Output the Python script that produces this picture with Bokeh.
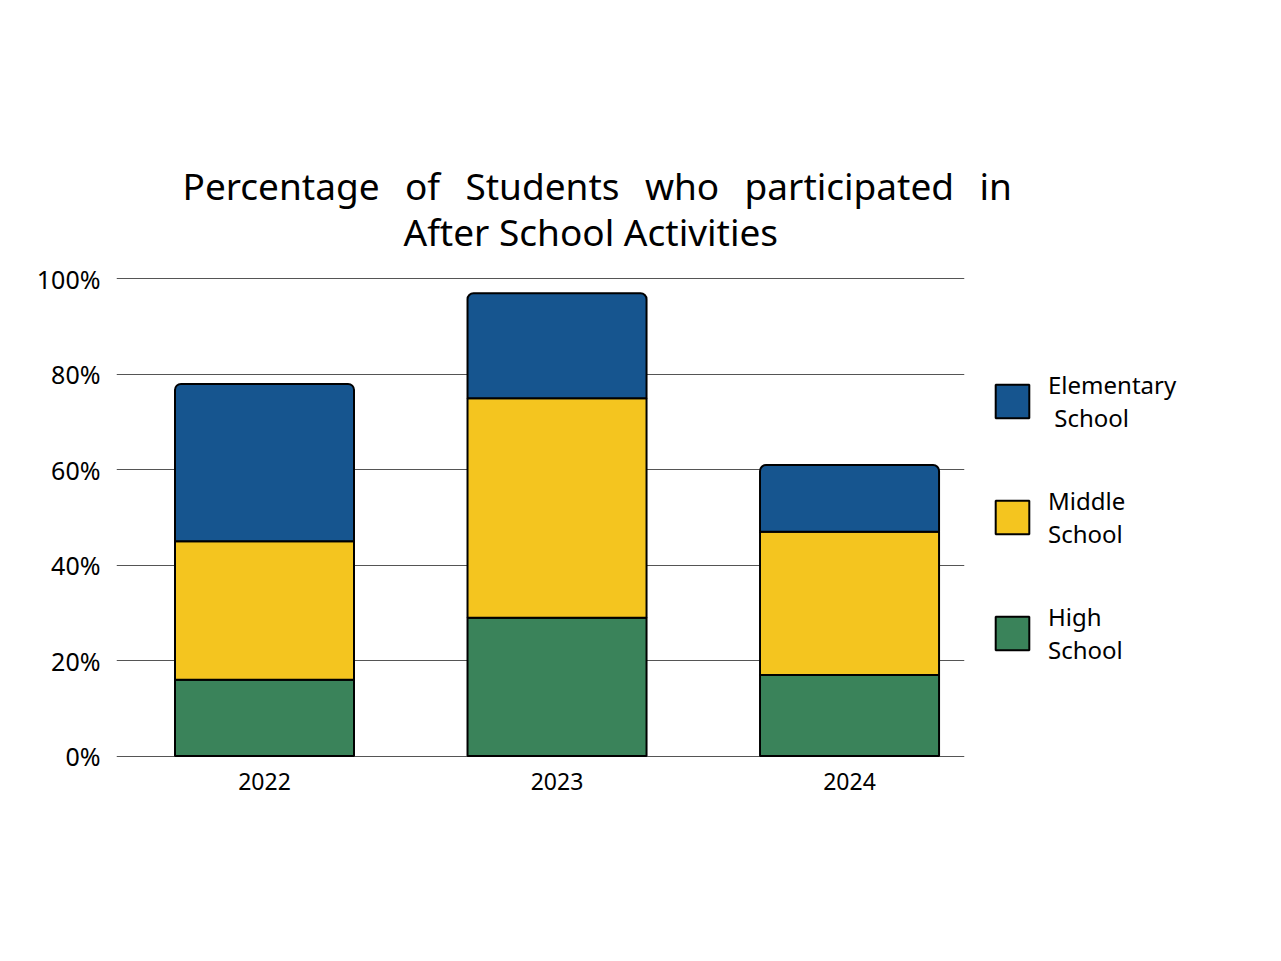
from bokeh.plotting import figure
from bokeh.models import ColumnDataSource, Range1d, FixedTicker, Legend, LegendItem, Title
from bokeh.embed import file_html
from bokeh.resources import INLINE

# data
years = ["2022", "2023", "2024"]
high = [16, 29, 17]
middle = [29, 46, 30]
elementary = [33, 22, 14]
levels = ["high", "middle", "elementary"]
level_names = ["High\nSchool", "Middle\nSchool", "Elementary\n School"]
colors = ["#3a835a", "#f4c51f", "#16558f"]
y_ticks = [0, 20, 40, 60, 80, 100]
y_labels = ["0%", "20%", "40%", "60%", "80%", "100%"]

FONT = "Noto Sans"
sp = "\u00a0\u00a0\u2009"
line1 = sp.join(["Percentage", "of", "Students", "who", "participated", "in"])
line2 = "After School Activities"

src = ColumnDataSource(dict(x=list(range(len(years))), year=years,
                            high=high, middle=middle, elementary=elementary))

# range a hair past 0/100 so both edge gridlines get drawn
p = figure(frame_width=848, frame_height=480,
           x_range=Range1d(-0.506, 2.393), y_range=Range1d(-0.3, 100.3),
           output_backend="svg", toolbar_location=None,
           min_border_left=116, min_border_top=277, min_border_bottom=90, min_border_right=10)

# title, two lines
p.title.text = line1
p.title.align = "left"
p.title.offset = 66
p.title.text_font = FONT
p.title.text_font_size = "37px"
p.title.text_font_style = "normal"
p.title.text_color = "black"
p.title.standoff = -56
t2 = Title(text=line2, align="left", offset=287, text_font=FONT, text_font_size="37px",
           text_font_style="normal", text_color="black", standoff=42)
p.add_layout(t2, "above")

bars = p.vbar_stack(levels, x="x", width=0.612, source=src,
                    fill_color=colors, line_color="black", line_width=2)
bars[-1].glyph.border_radius = (6, 6, 0, 0)

legend = Legend(items=[LegendItem(label=level_names[i], renderers=[bars[i]]) for i in (2, 1, 0)],
                location="center_left", orientation="vertical",
                glyph_width=42, glyph_height=42, label_standoff=15, spacing=50,
                padding=10, margin=27, border_line_color=None, background_fill_alpha=0,
                label_text_font=FONT, label_text_font_size="24px", label_text_color="black")
p.add_layout(legend, "right")

p.yaxis.ticker = FixedTicker(ticks=y_ticks)
p.yaxis.major_label_overrides = dict(zip(y_ticks, y_labels))
p.yaxis.major_label_standoff = 16
p.yaxis.major_label_text_font_size = "25px"

p.xaxis.ticker = FixedTicker(ticks=list(range(len(years))))
p.xaxis.major_label_overrides = dict(enumerate(years))
p.xaxis.major_label_standoff = 15
p.xaxis.major_label_text_font_size = "23px"

for ax in (p.xaxis, p.yaxis):
    ax.axis_line_color = None
    ax.major_tick_line_color = None
    ax.minor_tick_line_color = None
    ax.major_tick_out = 0
    ax.major_tick_in = 0
    ax.major_label_text_font = FONT
    ax.major_label_text_color = "black"

p.xgrid.grid_line_color = None
p.ygrid.grid_line_color = "#555555"
p.ygrid.grid_line_width = 1.2
p.outline_line_color = None

open("out.html", "w").write(file_html(p, INLINE))
